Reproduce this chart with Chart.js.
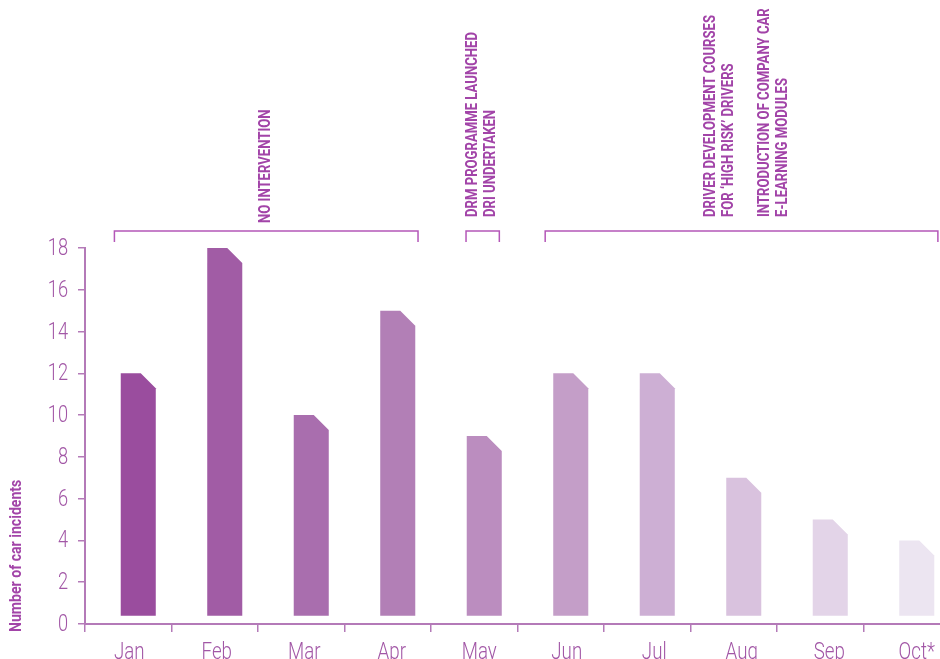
<!DOCTYPE html>
<html>
<head>
<meta charset="utf-8">
<script src="https://cdn.jsdelivr.net/npm/chart.js@4/dist/chart.umd.min.js"></script>
<style>
  html, body { margin: 0; padding: 0; background: #fff; overflow: hidden; }
  #wrap { width: 940px; height: 659px; overflow: hidden; position: relative; }
  #myChart { position: absolute; left: 0; top: 0; }
</style>
</head>
<body>
<div id="wrap"><canvas id="myChart" width="950" height="659"></canvas></div>
<script>
var MONTHS = ['Jan', 'Feb', 'Mar', 'Apr', 'May', 'Jun', 'Jul', 'Aug', 'Sep', 'Oct*'];
var INCIDENTS = [12, 18, 10, 15, 9, 12, 12, 7, 5, 4];
var BAR_COLORS = ['#9a4d9e', '#a15ca5', '#a96eae', '#b27fb6', '#bb8dbf',
                  '#c49ec8', '#cdafd4', '#d9c2de', '#e3d4e8', '#ece5f1'];
var Y_TICKS = [0, 2, 4, 6, 8, 10, 12, 14, 16, 18];
var Y_TITLE = 'Number of car incidents';

// brackets above the plot: [from, to] in category units
var BRACKETS = [[-0.16, 3.35], [3.905, 4.29], [4.82, 9.36]];
// notes: category position, text lines
var NOTES = [
    { at: 1.59, bottom: 223, lines: ['NO INTERVENTION'] },
    { at: 3.98, bottom: 217, lines: ['DRM PROGRAMME LAUNCHED', 'DRI UNDERTAKEN'] },
    { at: 6.74, bottom: 217, lines: ['DRIVER DEVELOPMENT COURSES', 'FOR \u2018HIGH RISK\u2019 DRIVERS'] },
    { at: 7.36, bottom: 217, lines: ['INTRODUCTION OF COMPANY CAR', 'E-LEARNING MODULES'] }
];

var PURPLE = '#a244a8';
var LABEL = '#a257a6';
var AXIS = '#b47ab8';
var FONT = 'Roboto, "DejaVu Sans", sans-serif';

// draw condensed text: squeeze along the text direction
function narrowText(ctx, text, x, y, sx, rot) {
    ctx.save();
    ctx.translate(x, y);
    if (rot) ctx.rotate(rot);
    ctx.scale(sx, 1);
    ctx.fillText(text, 0, 0);
    ctx.restore();
}

// bars with a clipped top-right corner
var cutBars = {
    id: 'cutBars',
    beforeDatasetDraw: function (chart, args) {
        var ctx = chart.ctx;
        var shift = 10, cut = 15;
        args.meta.data.forEach(function (el, i) {
            var p = el.getProps(['x', 'y', 'base', 'width'], true);
            var x0 = p.x - p.width / 2 + shift;
            var x1 = x0 + p.width;
            ctx.save();
            ctx.fillStyle = BAR_COLORS[i];
            ctx.beginPath();
            ctx.moveTo(x0, p.base);
            ctx.lineTo(x0, p.y);
            ctx.lineTo(x1 - cut, p.y);
            ctx.lineTo(x1, p.y + cut);
            ctx.lineTo(x1, p.base);
            ctx.closePath();
            ctx.fill();
            ctx.restore();
        });
        return false;
    }
};

// tick labels, axis title, brackets and notes in a condensed face
var textPlugin = {
    id: 'texts',
    afterDraw: function (chart) {
        var ctx = chart.ctx;
        var xs = chart.scales.x, ys = chart.scales.y;
        ctx.save();
        ctx.fillStyle = LABEL;
        ctx.font = '300 24px ' + FONT;
        ctx.textAlign = 'right';
        ctx.textBaseline = 'middle';
        ys.ticks.forEach(function (t, i) {
            narrowText(ctx, String(t.value), 68, ys.getPixelForTick(i) + 1, 0.76);
        });
        ctx.textAlign = 'center';
        ctx.textBaseline = 'alphabetic';
        MONTHS.forEach(function (m, i) {
            narrowText(ctx, m, xs.getPixelForTick(i) + 1 + i, 659, 0.78);
        });

        ctx.fillStyle = PURPLE;
        ctx.font = 'bold 16px ' + FONT;
        ctx.textAlign = 'left';
        ctx.textBaseline = 'middle';
        narrowText(ctx, Y_TITLE, 17, 632, 0.88, -Math.PI / 2);

        var unit = xs.getPixelForValue(1) - xs.getPixelForValue(0);
        var px = function (v) { return xs.getPixelForValue(0) + v * unit; };
        ctx.strokeStyle = '#b457b8';
        ctx.lineWidth = 1.5;
        BRACKETS.forEach(function (b) {
            var a = px(b[0]), c = px(b[1]);
            ctx.beginPath();
            ctx.moveTo(a, 242);
            ctx.lineTo(a, 231);
            ctx.lineTo(c, 231);
            ctx.lineTo(c, 242);
            ctx.stroke();
        });
        NOTES.forEach(function (n) {
            var cx = px(n.at);
            n.lines.forEach(function (t, k) {
                narrowText(ctx, t, cx + k * 18, n.bottom, 0.82, -Math.PI / 2);
            });
        });
        ctx.restore();
    }
};

var ctx = document.getElementById('myChart');
var myChart = new Chart(ctx, {
    type: 'bar',
    data: {
        labels: MONTHS,
        datasets: [{
            label: Y_TITLE,
            data: INCIDENTS,
            base: 0.4,
            backgroundColor: BAR_COLORS,
            barPercentage: 0.9,
            categoryPercentage: 0.45
        }]
    },
    options: {
        responsive: false,
        animation: false,
        layout: { padding: { top: 248, left: 0, right: 0, bottom: 0 } },
        plugins: {
            legend: { display: false },
            tooltip: { enabled: false }
        },
        scales: {
            x: {
                offset: true,
                grid: { offset: true, drawOnChartArea: false, drawTicks: true, tickLength: 8, color: AXIS, lineWidth: 1.5 },
                border: { color: AXIS, width: 2 },
                ticks: { color: 'rgba(0,0,0,0)', font: { family: FONT, size: 22 }, maxRotation: 0 },
                afterFit: function (s) { s.height = 35; }
            },
            y: {
                min: 0,
                max: 18,
                afterBuildTicks: function (s) { s.ticks = Y_TICKS.map(function (v) { return { value: v }; }); },
                grid: { drawOnChartArea: false, drawTicks: true, tickLength: 7, color: AXIS, lineWidth: 1.5 },
                border: { color: AXIS, width: 2 },
                ticks: { color: 'rgba(0,0,0,0)', font: { family: FONT, size: 22 } },
                afterFit: function (s) { s.width = 85; }
            }
        }
    },
    plugins: [cutBars, textPlugin]
});
</script>
</body>
</html>
